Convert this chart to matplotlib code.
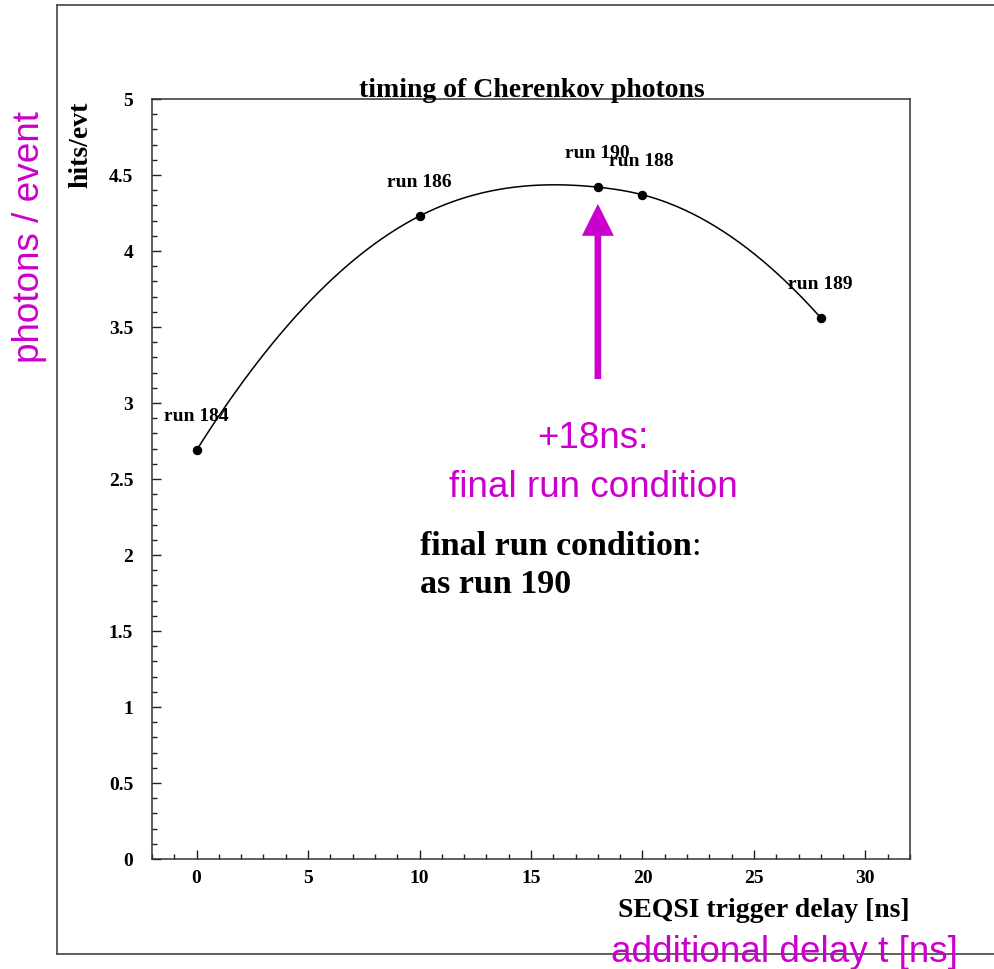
import numpy as np
import matplotlib
matplotlib.use('Agg')
import matplotlib.pyplot as plt
from matplotlib.lines import Line2D
from matplotlib.ticker import MultipleLocator, FormatStrFormatter

# measured points (trigger delay in ns, hits per event)
delay = [0, 10, 18, 20, 28]
hits = [2.69, 4.23, 4.42, 4.37, 3.56]
run_names = ['run 184', 'run 186', 'run 190', 'run 188', 'run 189']

W, H = 994, 970
MAG = '#cc00cc'
SERIF = 'Liberation Serif'
SANS = 'Liberation Sans'


def fx(px):
    return px / W


def fy(py):
    return 1 - py / H


def smooth_curve(x, y, xs):
    # cubic spline through the points, parabolic run-out at both ends
    x = np.asarray(x, float)
    y = np.asarray(y, float)
    n = len(x)
    h = np.diff(x)
    A = np.zeros((n, n))
    r = np.zeros(n)
    A[0, 0], A[0, 1] = 1, -1
    A[-1, -1], A[-1, -2] = 1, -1
    for i in range(1, n - 1):
        A[i, i - 1] = h[i - 1]
        A[i, i] = 2 * (h[i - 1] + h[i])
        A[i, i + 1] = h[i]
        r[i] = 6 * ((y[i + 1] - y[i]) / h[i] - (y[i] - y[i - 1]) / h[i - 1])
    m = np.linalg.solve(A, r)
    k = np.clip(np.searchsorted(x, xs) - 1, 0, n - 2)
    t0 = x[k + 1] - xs
    t1 = xs - x[k]
    hk = h[k]
    return (m[k] * t0 ** 3 / (6 * hk) + m[k + 1] * t1 ** 3 / (6 * hk)
            + (y[k] / hk - m[k] * hk / 6) * t0 + (y[k + 1] / hk - m[k + 1] * hk / 6) * t1)


fig = plt.figure(figsize=(W / 100, H / 100), dpi=100)

# outer frame (open on the right)
for xs, ys in [((57, 994), (6, 6)), ((57, 57), (6, 955)), ((57, 994), (955, 955))]:
    fig.add_artist(Line2D([fx(x) for x in xs], [fy(y) for y in ys],
                          transform=fig.transFigure, color='#444444', lw=1.2))

ax = fig.add_axes([fx(152), fy(860), fx(910) - fx(152), fy(100) - fy(860)])
ax.set_xlim(-2, 32)
ax.set_ylim(0, 5)

xx = np.linspace(min(delay), max(delay), 400)
ax.plot(xx, smooth_curve(delay, hits, xx), color='black', lw=1.1)
ax.plot(delay, hits, 'o', color='black', ms=5.8)

for x, y, name in zip(delay, hits, run_names):
    ax.text(x - 1.48, y + 0.197, name, ha='left', va='baseline',
            family=SERIF, weight='bold', fontsize=14)

# arrow to the chosen setting
ax.annotate('', xy=(18, 4.31), xytext=(18, 3.158),
            arrowprops=dict(arrowstyle='simple,head_width=2.3,head_length=2.3,tail_width=0.48',
                            mutation_scale=10, color=MAG, shrinkA=0, shrinkB=0, lw=0))

ax.text(17.8, (860 - 448) / 152, '+18ns:', ha='center', va='baseline',
        color=MAG, family=SANS, fontsize=26.6)
ax.text(17.8, (860 - 497) / 152, 'final run condition', ha='center', va='baseline',
        color=MAG, family=SANS, fontsize=26.6)

t1 = ax.text(10.0, (860 - 555) / 152, 'final run condition', ha='left', va='baseline',
             family=SERIF, weight='bold', fontsize=24.5)
ax.annotate(':', xy=(1, 0), xycoords=t1, ha='left', va='bottom',
            family=SERIF, fontsize=24.5)
ax.text(10.0, (860 - 593) / 152, 'as run 190', ha='left', va='baseline',
        family=SERIF, weight='bold', fontsize=24.5)

# axes styling
ax.xaxis.set_major_locator(MultipleLocator(5))
ax.xaxis.set_minor_locator(MultipleLocator(1))
ax.yaxis.set_major_locator(MultipleLocator(0.5))
ax.yaxis.set_minor_locator(MultipleLocator(0.1))
ax.xaxis.set_major_formatter(FormatStrFormatter('%g'))
ax.yaxis.set_major_formatter(FormatStrFormatter('%g'))
ax.tick_params(which='both', direction='in', top=False, right=False, width=1.0, color='#222222')
ax.tick_params(which='major', length=6.3)
ax.tick_params(which='minor', length=3.6)
ax.tick_params(axis='x', which='major', pad=7.5)
ax.tick_params(axis='y', which='major', pad=13.5)
for lab in ax.get_xticklabels() + ax.get_yticklabels():
    lab.set_family(SERIF)
    lab.set_fontweight('bold')
    lab.set_fontsize(14)
for sp in ax.spines.values():
    sp.set_linewidth(1.1)
    sp.set_color('#333333')

# titles and labels
fig.text(fx(532), fy(97), 'timing of Cherenkov photons', ha='center', va='baseline',
         family=SERIF, weight='bold', fontsize=20)
fig.text(fx(910), fy(917), 'SEQSI trigger delay [ns]', ha='right', va='baseline',
         family=SERIF, weight='bold', fontsize=20)
fig.text(fx(87), fy(102), 'hits/evt', ha='right', va='baseline', rotation=90,
         rotation_mode='anchor', family=SERIF, weight='bold', fontsize=20)
fig.text(fx(39), fy(237), 'photons / event', ha='center', va='baseline', rotation=90,
         rotation_mode='anchor', color=MAG, family=SANS, fontsize=26.6)
fig.text(fx(784), fy(962), 'additional delay t [ns]', ha='center', va='baseline',
         color=MAG, family=SANS, fontsize=26.6)

fig.savefig('out.png', dpi=100)
